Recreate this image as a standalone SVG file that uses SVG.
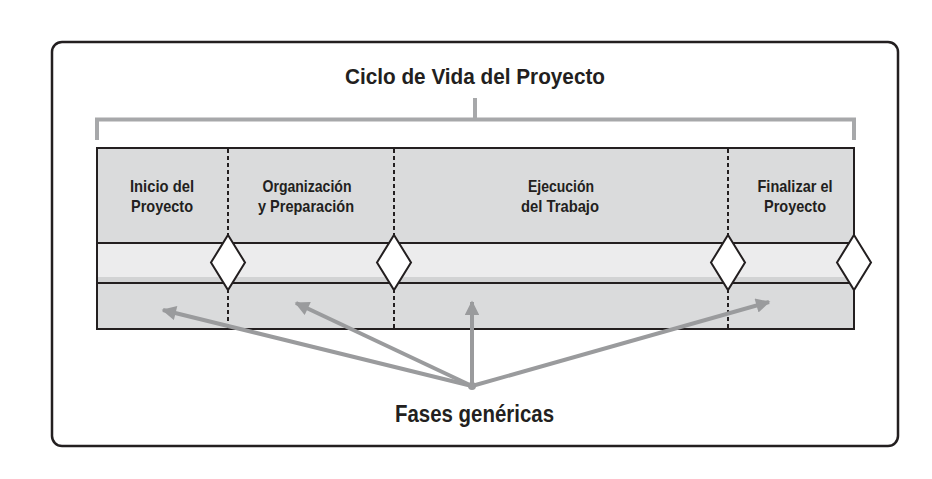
<svg xmlns="http://www.w3.org/2000/svg" width="932" height="479" viewBox="0 0 932 479">
<defs>
<marker id="ah" viewBox="0 0 10 10" refX="9" refY="5" markerWidth="3.8" markerHeight="3.6" orient="auto" markerUnits="strokeWidth">
<path d="M0,0 L10,5 L0,10 z" fill="#9a9b9d"/>
</marker>
<style>
.t{font-family:"Liberation Sans Narrow","Liberation Sans",Arial,sans-serif;font-weight:bold;fill:#231f20}
.ph{font-size:16.5px;text-anchor:middle}
.div{stroke:#231f20;stroke-width:2;stroke-dasharray:4,3}
.dia{fill:#fff;stroke:#231f20;stroke-width:2}
.arr{stroke:#9a9b9d;stroke-width:4;fill:none;marker-end:url(#ah)}
</style>
</defs>
<rect width="932" height="479" fill="#fff"/>
<rect x="52" y="42" width="846" height="404" rx="10" fill="#fff" stroke="#231f20" stroke-width="2.5"/>
<g id="title">
<text class="t" x="475" y="83.5" font-size="22" text-anchor="middle" textLength="260" lengthAdjust="spacingAndGlyphs">Ciclo de Vida del Proyecto</text>
<path d="M97,140 V119.5 H854 V140 M475,98 V119.5" fill="none" stroke="#a7a8aa" stroke-width="4"/>
</g>
<g id="lifecycle">
<rect x="97" y="148" width="757" height="181" fill="#dadbdc"/>
<rect x="97" y="243" width="757" height="40" fill="#ececed"/>
<rect x="97" y="277" width="757" height="6" fill="#d2d3d4"/>
<line x1="97" y1="243" x2="854" y2="243" stroke="#231f20" stroke-width="2"/>
<line x1="97" y1="283" x2="854" y2="283" stroke="#231f20" stroke-width="2"/>
<rect x="97" y="148" width="757" height="181" fill="none" stroke="#231f20" stroke-width="2"/>
</g>
<g id="dividers">
<line class="div" x1="228" y1="149" x2="228" y2="328"/>
<line class="div" x1="394" y1="149" x2="394" y2="328"/>
<line class="div" x1="728" y1="149" x2="728" y2="328"/>
</g>
<g id="phase-inicio">
<text class="t ph" x="162" y="191.5" textLength="64" lengthAdjust="spacingAndGlyphs">Inicio del</text>
<text class="t ph" x="162" y="211.5" textLength="62" lengthAdjust="spacingAndGlyphs">Proyecto</text>
</g>
<g id="phase-organizacion">
<text class="t ph" x="307" y="191.5" textLength="89" lengthAdjust="spacingAndGlyphs">Organización</text>
<text class="t ph" x="306" y="211.5" textLength="96" lengthAdjust="spacingAndGlyphs">y Preparación</text>
</g>
<g id="phase-ejecucion">
<text class="t ph" x="561" y="191.5" textLength="66" lengthAdjust="spacingAndGlyphs">Ejecución</text>
<text class="t ph" x="560" y="211.5" textLength="78" lengthAdjust="spacingAndGlyphs">del Trabajo</text>
</g>
<g id="phase-finalizar">
<text class="t ph" x="795" y="191.5" textLength="75" lengthAdjust="spacingAndGlyphs">Finalizar el</text>
<text class="t ph" x="795" y="211.5" textLength="62" lengthAdjust="spacingAndGlyphs">Proyecto</text>
</g>
<g id="milestones">
<path class="dia" d="M228,235 L245,262.5 L228,290 L211,262.5 Z"/>
<path class="dia" d="M394,235 L411,262.5 L394,290 L377,262.5 Z"/>
<path class="dia" d="M728,235 L745,262.5 L728,290 L711,262.5 Z"/>
<path class="dia" d="M854,235 L871,262.5 L854,290 L837,262.5 Z"/>
</g>
<g id="connectors">
<line class="arr" x1="472" y1="386" x2="163" y2="310"/>
<line class="arr" x1="472" y1="386" x2="296" y2="303"/>
<line class="arr" x1="472" y1="386" x2="472" y2="302"/>
<line class="arr" x1="472" y1="386" x2="769" y2="302"/>
<circle cx="472" cy="386" r="4" fill="#9a9b9d"/>
</g>
<g id="fases">
<text class="t" x="474.5" y="421.5" font-size="23.5" text-anchor="middle" textLength="159" lengthAdjust="spacingAndGlyphs">Fases genéricas</text>
</g>
</svg>
